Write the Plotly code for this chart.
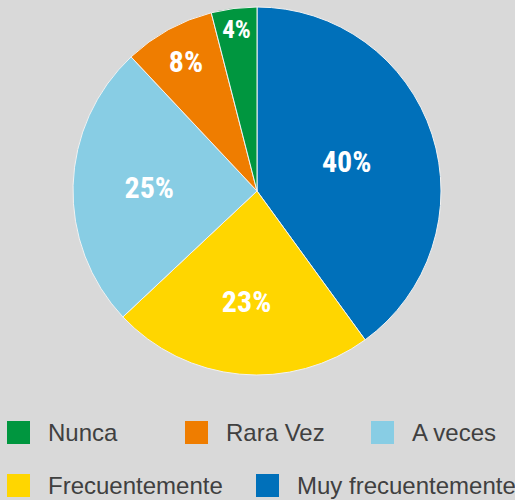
import plotly.graph_objects as go

labels = ["Nunca", "Rara Vez", "A veces", "Frecuentemente", "Muy frecuentemente"]
values = [4, 8, 25, 23, 40]
colors = ["#00963F", "#EF7D00", "#88CDE4", "#FFD600", "#0070BA"]

W, H = 515, 500
BG = "#D9D9D9"

def px(x):
    return x / W

def py(y):
    return 1 - y / H

fig = go.Figure()
fig.add_trace(go.Pie(
    labels=labels[::-1],
    values=values[::-1],
    sort=False,
    direction="clockwise",
    rotation=0,
    marker=dict(colors=colors[::-1], line=dict(color="#F2F2F2", width=1)),
    texttemplate="%{percent:.0%}",
    textposition="inside",
    insidetextorientation="horizontal",
    textfont=dict(family="Roboto Condensed, Roboto", size=30, color="white", weight="bold"),
    showlegend=False,
    hoverinfo="label+percent",
    domain=dict(x=[px(73), px(441)], y=[py(375), py(7)]),
))

# manual legend built from the label/colour lists
legend_pos = [(7, 432.5), (185, 432.5), (371, 432.5), (7, 485.5), (256, 485.5)]
shapes = []
annotations = []
for lab, col, (lx, ly) in zip(labels, colors, legend_pos):
    shapes.append(dict(type="rect", xref="paper", yref="paper",
                       x0=px(lx), x1=px(lx + 23), y0=py(ly + 11.5), y1=py(ly - 11.5),
                       fillcolor=col, line=dict(width=0)))
    annotations.append(dict(text=lab, xref="paper", yref="paper",
                            x=px(lx + 39), y=py(ly), xanchor="left", yanchor="middle",
                            showarrow=False,
                            font=dict(family="Liberation Sans, Arial", size=24, color="#404040")))

fig.update_layout(
    width=W, height=H,
    margin=dict(l=0, r=0, t=0, b=0),
    paper_bgcolor=BG, plot_bgcolor=BG,
    shapes=shapes, annotations=annotations,
    showlegend=False,
)

fig.write_html("out.html",
               config={"displayModeBar": False},
               post_script="document.body.style.margin='0';document.body.style.overflow='hidden';")
